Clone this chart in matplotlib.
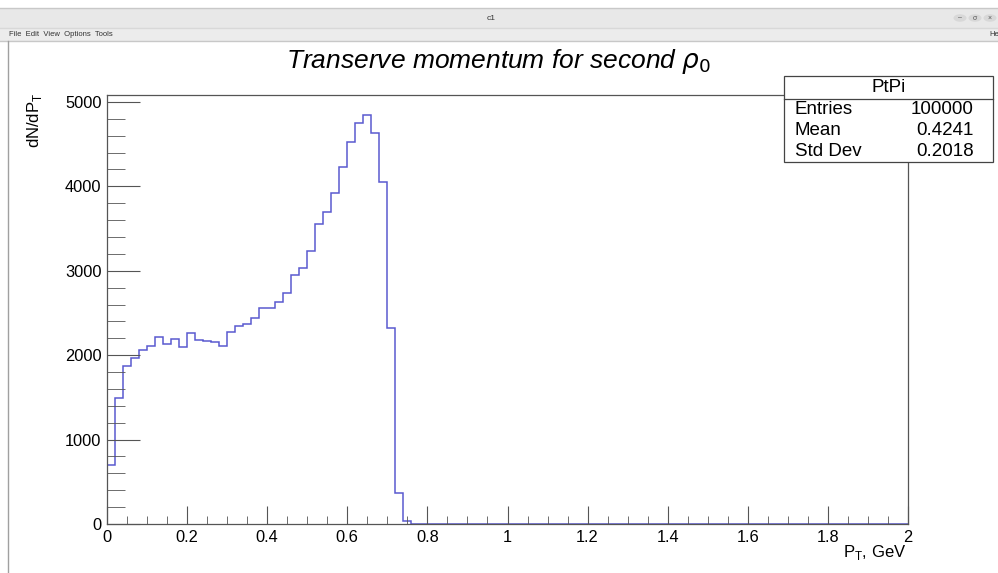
import matplotlib
matplotlib.use("Agg")
import matplotlib.pyplot as plt
import numpy as np
from matplotlib.patches import Rectangle, Circle
from matplotlib.lines import Line2D
from matplotlib.ticker import MultipleLocator

plt.rcParams['font.family'] = ['Liberation Sans', 'DejaVu Sans']

# Histogram: 100 bins from 0 to 2 (bin width 0.02)
bin_low = 0.0
bin_high = 2.0
n_bins = 100
counts_nonzero = [700, 1487, 1874, 1968, 2067, 2110, 2213, 2134, 2197, 2095,
                  2264, 2181, 2169, 2158, 2110, 2280, 2347, 2375, 2438, 2556,
                  2556, 2627, 2742, 2955, 3030, 3239, 3558, 3700, 3921, 4233,
                  4524, 4745, 4840, 4635, 4047, 2316, 370, 30]
counts = counts_nonzero + [0] * (n_bins - len(counts_nonzero))

title = r"Transerve momentum for second $\rho_0$"
xlabel = r"P$_\mathregular{T}$, GeV"
ylabel = r"dN/dP$_\mathregular{T}$"
stats_name = "PtPi"
stats_rows = [("Entries", "100000"), ("Mean", "0.4241"), ("Std Dev", "0.2018")]
x_ticks = [0, 0.2, 0.4, 0.6, 0.8, 1, 1.2, 1.4, 1.6, 1.8, 2]
x_ticklabels = ["0", "0.2", "0.4", "0.6", "0.8", "1", "1.2", "1.4", "1.6", "1.8", "2"]
y_ticks = [0, 1000, 2000, 3000, 4000, 5000]

W, H = 998, 573
fig = plt.figure(figsize=(W / 100, H / 100), dpi=100)
fig.patch.set_facecolor('white')

def fx(px):
    return px / W

def fy(py):
    return 1 - py / H

# ---- window chrome ----
fig.patches.append(Rectangle((0, fy(28)), 1, fy(8) - fy(28), transform=fig.transFigure,
                             facecolor='#e8e8e8', edgecolor='none', zorder=0))
fig.patches.append(Rectangle((0, fy(41)), 1, fy(28) - fy(41), transform=fig.transFigure,
                             facecolor='#ececec', edgecolor='none', zorder=0))
for yy, col in [(8, '#c8c8c8'), (28, '#d8d8d8'), (41, '#c8c8c8')]:
    fig.add_artist(Line2D([0, 1], [fy(yy), fy(yy)], transform=fig.transFigure,
                          color=col, lw=1))
fig.add_artist(Line2D([fx(7.5), fx(7.5)], [fy(41), 0], transform=fig.transFigure,
                      color='#a0a0a0', lw=1))
fig.text(fx(491), fy(18), "c1", ha='center', va='center', fontsize=6, color='#333333')
fig.text(fx(9), fy(35), "File  Edit  View  Options  Tools", ha='left', va='center',
         fontsize=5.5, color='#333333')
fig.text(fx(989), fy(35), "He", ha='left', va='center', fontsize=5.5, color='#333333')
for cx, sym in [(960, "–"), (975, "σ"), (990, "×")]:
    fig.patches.append(Circle((fx(cx), fy(18)), 0.0065, transform=fig.transFigure,
                              facecolor='#d8d8d8', edgecolor='none'))
    fig.text(fx(cx), fy(18), sym, ha='center', va='center', fontsize=5, color='#555555')

# ---- axes ----
ax = fig.add_axes([fx(107), fy(524), fx(908) - fx(107), fy(95) - fy(524)])
edges = np.linspace(bin_low, bin_high, n_bins + 1)
ax.stairs(counts, edges, color='#5a5ad0', lw=1.1, baseline=None)

ymax = 1.05 * max(counts)
ax.set_xlim(bin_low, bin_high)
ax.set_ylim(0, ymax)

ax.set_xticks(x_ticks)
ax.set_xticklabels(x_ticklabels)
ax.set_yticks(y_ticks)
ax.xaxis.set_minor_locator(MultipleLocator(0.05))
ax.yaxis.set_minor_locator(MultipleLocator(200))
ax.tick_params(axis='both', which='both', direction='in', top=False, right=False,
               labelsize=11.8, color='#555555')
ax.tick_params(axis='x', which='major', length=13, pad=4)
ax.tick_params(axis='x', which='minor', length=6)
ax.tick_params(axis='y', which='major', length=24, pad=4)
ax.tick_params(axis='y', which='minor', length=13)
for s in ax.spines.values():
    s.set_color('#555555')
    s.set_linewidth(0.9)

fig.text(fx(499), fy(62), title, ha='center', va='center', fontsize=19,
         style='italic')
fig.text(fx(906), fy(543), xlabel, ha='right', va='top', fontsize=12)
fig.text(fx(35), fy(93), ylabel, ha='center', va='top', fontsize=12, rotation=90)

# ---- stats box ----
bx0, by0, bx1, by1 = 784, 76, 993, 162
fig.patches.append(Rectangle((fx(bx0), fy(by1)), fx(bx1) - fx(bx0), fy(by0) - fy(by1),
                             transform=fig.transFigure, facecolor='white',
                             edgecolor='#444444', lw=0.9, zorder=5))
fig.add_artist(Line2D([fx(bx0), fx(bx1)], [fy(99), fy(99)], transform=fig.transFigure,
                      color='#444444', lw=0.9, zorder=6))
fig.text(fx((bx0 + bx1) / 2), fy(88), stats_name, ha='center', va='center',
         fontsize=13.5, zorder=7)
for i, (k, v) in enumerate(stats_rows):
    yy = 109 + 21.5 * i
    fig.text(fx(795), fy(yy), k, ha='left', va='center', fontsize=13.5, zorder=7)
    fig.text(fx(974), fy(yy), v, ha='right', va='center', fontsize=13.5, zorder=7)

fig.savefig("out.png", dpi=100, facecolor='white')
